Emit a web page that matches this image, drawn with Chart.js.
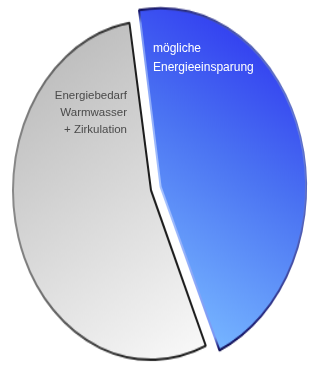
<!DOCTYPE html>
<html>
<head>
<meta charset="utf-8">
<script src="https://cdn.jsdelivr.net/npm/chart.js"></script>
<style>
  html, body { margin: 0; padding: 0; background: #fff; }
  #wrap { position: relative; width: 309px; height: 366px; overflow: hidden; background: #fff; }
  /* the reference pie is an upright ellipse, so the square chart is stretched */
  #stretch { position: absolute; left: -8px; top: -5px; width: 318px; height: 318px;
             transform: scaleY(1.228); transform-origin: 0 0; }
  .lbl { position: absolute; font-family: "Liberation Sans", Arial, sans-serif; white-space: nowrap; }
  #lblSave { left: 153px; top: 39px; font-size: 12px; line-height: 19px; color: #fff; }
  #lblNeed { right: 182px; top: 87px; font-size: 11.5px; line-height: 17px; color: #4a4a4a; text-align: right; }
</style>
</head>
<body>
<div id="wrap">
  <div id="stretch"><canvas id="pie" width="318" height="318"></canvas></div>
  <div class="lbl" id="lblSave">mögliche<br>Energieeinsparung</div>
  <div class="lbl" id="lblNeed">Energiebedarf<br>Warmwasser<br>+ Zirkulation</div>
</div>
<script>
/* ── Data ─────────────────────────────────────────────────── */
const categories = ['mögliche Energieeinsparung', 'Energiebedarf Warmwasser + Zirkulation'];
const shares     = [46, 54];

/* ── Gradients (canvas coords, before the vertical stretch) ─ */
function blueFill(c) {
  const g = c.createLinearGradient(297, 18, 165, 255);
  g.addColorStop(0, '#2a2cf0');
  g.addColorStop(0.5, '#4a72f2');
  g.addColorStop(1, '#74b2ff');
  return g;
}
function greyFill(c) {
  const g = c.createLinearGradient(25, 50, 180, 300);
  g.addColorStop(0, '#bababa');
  g.addColorStop(1, '#f7f7f7');
  return g;
}
// dark rim on the outer arc, soft on the cut edges
function blueEdge(c) {
  const g = c.createRadialGradient(168, 156, 0, 168, 156, 148);
  g.addColorStop(0, '#a8c4ff');
  g.addColorStop(0.9, '#7c98f4');
  g.addColorStop(0.965, '#1a1a70');
  g.addColorStop(1, '#05052a');
  return g;
}
function greyEdge(c) {
  const g = c.createLinearGradient(20, 0, 145, 0);
  g.addColorStop(0, '#8a8a8a');
  g.addColorStop(1, '#1c1c1c');
  return g;
}

/* arc offset is divided by 4 when drawn (40 -> 10px) and also grows the slice a bit */
new Chart(document.getElementById('pie').getContext('2d'), {
  type: 'pie',
  data: {
    labels: categories,
    datasets: [{
      data: shares,
      backgroundColor: ctx => {
        const c = ctx.chart.ctx;
        return ctx.dataIndex === 0 ? blueFill(c) : greyFill(c);
      },
      borderColor: ctx => {
        const c = ctx.chart.ctx;
        return ctx.dataIndex === 0 ? blueEdge(c) : greyEdge(c);
      },
      borderWidth: 2,
      offset: [40, 0]
    }]
  },
  options: {
    responsive: false,
    animation: false,
    rotation: -9,
    layout: { padding: 0 },
    plugins: {
      legend: { display: false },
      tooltip: { enabled: false }
    }
  }
});
</script>
</body>
</html>
